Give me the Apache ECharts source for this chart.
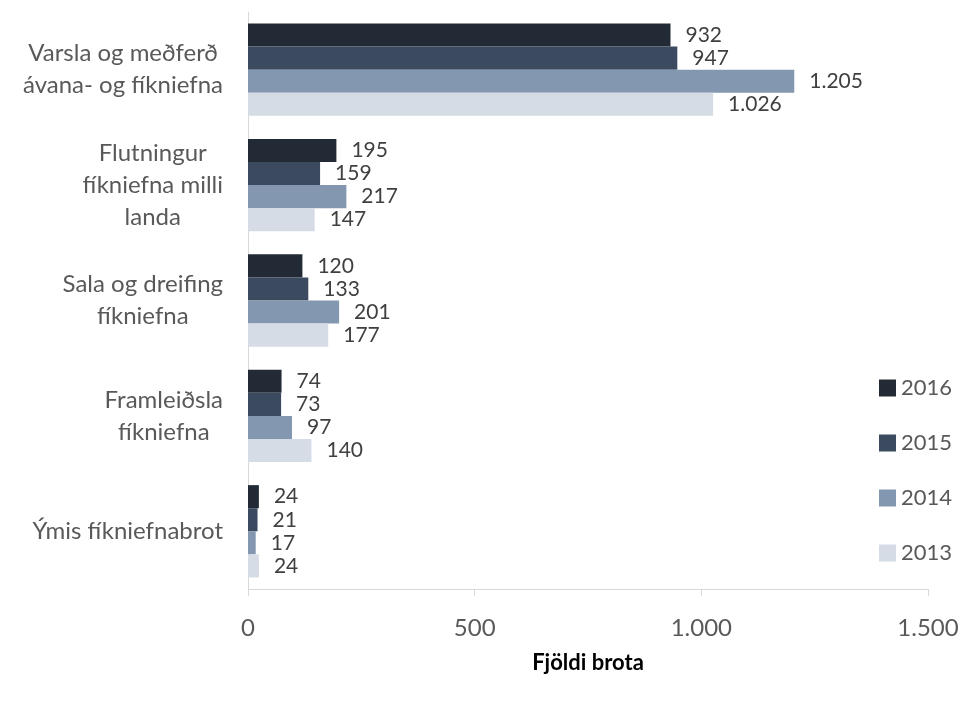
<!DOCTYPE html>
<html>
<head>
<meta charset="utf-8">
<script src="https://cdn.jsdelivr.net/npm/echarts@6/dist/echarts.min.js"></script>
<style>html,body{margin:0;padding:0;background:#fff}#c{width:977px;height:702px}</style>
</head>
<body>
<div id="c"></div>
<script>
var categories = ["Varsla og meðferð\návana- og fíkniefna", "Flutningur\nfíkniefna milli\nlanda", "Sala og dreifing\nfíkniefna", "Framleiðsla\nfíkniefna", "Ýmis fíkniefnabrot"];
var seriesNames = ["2016", "2015", "2014", "2013"];
var values2016 = [932, 195, 120, 74, 24];
var values2015 = [947, 159, 133, 73, 21];
var values2014 = [1205, 217, 201, 97, 17];
var values2013 = [1026, 147, 177, 140, 24];
var xTicks = [0, 500, 1000, 1500];
var axisTitle = "Fjöldi brota";

var colors = ["#222a35", "#3b4a5e", "#8497b0", "#d6dce5"];
var FONT = "Lato";
function fmt(v) { return String(v).replace(/\B(?=(\d{3})+(?!\d))/g, "."); }

var allValues = [values2016, values2015, values2014, values2013];
var series = seriesNames.map(function (n, i) {
  return {
    name: n, type: "bar", data: allValues[i],
    barGap: "0%", barCategoryGap: "20%",
    itemStyle: { color: colors[i] },
    label: { show: true, position: "right", distance: 15, formatter: function (p) { return fmt(p.value); },
      color: "#404040", fontFamily: FONT, fontSize: 21 }
  };
});

var chart = echarts.init(document.getElementById("c"));
chart.setOption({
  animation: false,
  color: colors,
  grid: { left: 248, right: 49, top: 12, bottom: 113, containLabel: false },
  legend: {
    orient: "vertical", left: 874, top: 372, itemWidth: 17, itemHeight: 17, itemGap: 33,
    icon: "rect", data: seriesNames,
    textStyle: { color: "#595959", fontFamily: FONT, fontSize: 22 }
  },
  xAxis: {
    type: "value", min: xTicks[0], max: xTicks[xTicks.length - 1], interval: 500,
    name: axisTitle, nameLocation: "middle", nameGap: 63,
    nameTextStyle: { color: "#000", fontFamily: FONT, fontWeight: "bold", fontSize: 22 },
    axisLine: { show: true, lineStyle: { color: "#d9d9d9", width: 1 } },
    axisTick: { show: true, length: 7, lineStyle: { color: "#d9d9d9" } },
    splitLine: { show: false },
    axisLabel: { margin: 27, color: "#595959", fontFamily: FONT, fontSize: 24, formatter: function (v) { return fmt(v); } }
  },
  yAxis: {
    type: "category", data: categories, inverse: true,
    axisLine: { show: true, lineStyle: { color: "#d9d9d9", width: 1 } },
    axisTick: { show: false },
    axisLabel: {
      margin: 25, color: "#595959", fontFamily: FONT, fontSize: 24, lineHeight: 32, align: "right",
      formatter: function (v) { return v.split("\n").map(function (l) { return "{c|" + l + "}"; }).join("\n"); },
      rich: { c: { align: "center", color: "#595959", fontFamily: FONT, fontSize: 24, lineHeight: 32 } }
    }
  },
  series: series
});
</script>
</body>
</html>
